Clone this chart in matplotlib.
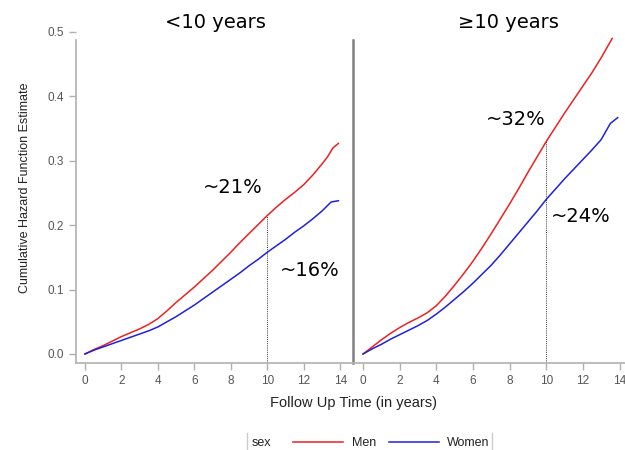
import matplotlib
matplotlib.use("Agg")
import matplotlib.pyplot as plt
from matplotlib.lines import Line2D

# ---- data ----
t_lt10_men = [0, 0.5, 1, 1.5, 2, 2.5, 3, 3.5, 4, 4.5, 5, 5.5, 6, 6.5, 7, 7.5, 8, 8.5, 9, 9.5, 10, 10.5, 11, 11.5, 12, 12.5, 13, 13.3, 13.6, 13.9]
y_lt10_men = [0, 0.007, 0.013, 0.020, 0.027, 0.033, 0.039, 0.046, 0.055, 0.067, 0.080, 0.092, 0.104, 0.117, 0.130, 0.144, 0.158, 0.173, 0.187, 0.201, 0.215, 0.228, 0.240, 0.251, 0.263, 0.278, 0.295, 0.306, 0.320, 0.327]
t_lt10_women = [0, 0.5, 1, 1.5, 2, 2.5, 3, 3.5, 4, 4.5, 5, 5.5, 6, 6.5, 7, 7.5, 8, 8.5, 9, 9.5, 10, 10.5, 11, 11.5, 12, 12.5, 13, 13.5, 13.9]
y_lt10_women = [0, 0.006, 0.011, 0.016, 0.021, 0.026, 0.031, 0.036, 0.042, 0.050, 0.058, 0.067, 0.076, 0.086, 0.096, 0.106, 0.116, 0.126, 0.137, 0.147, 0.158, 0.168, 0.178, 0.189, 0.199, 0.210, 0.222, 0.236, 0.238]

t_ge10_men = [0, 0.5, 1, 1.5, 2, 2.5, 3, 3.5, 4, 4.5, 5, 5.5, 6, 6.5, 7, 7.5, 8, 8.5, 9, 9.5, 10, 10.5, 11, 11.5, 12, 12.5, 13, 13.3, 13.6]
y_ge10_men = [0, 0.011, 0.022, 0.032, 0.041, 0.049, 0.056, 0.064, 0.075, 0.090, 0.107, 0.125, 0.144, 0.165, 0.187, 0.210, 0.233, 0.257, 0.282, 0.306, 0.330, 0.352, 0.374, 0.395, 0.416, 0.437, 0.460, 0.475, 0.490]
t_ge10_women = [0, 0.5, 1, 1.5, 2, 2.5, 3, 3.5, 4, 4.5, 5, 5.5, 6, 6.5, 7, 7.5, 8, 8.5, 9, 9.5, 10, 10.5, 11, 11.5, 12, 12.5, 13, 13.5, 13.9]
y_ge10_women = [0, 0.008, 0.015, 0.023, 0.030, 0.037, 0.044, 0.052, 0.062, 0.073, 0.085, 0.097, 0.110, 0.124, 0.138, 0.154, 0.171, 0.188, 0.205, 0.222, 0.240, 0.256, 0.272, 0.287, 0.302, 0.317, 0.333, 0.358, 0.367]

panel_titles = ["<10 years", "\u226510 years"]
labels_lt10 = ["~21%", "~16%"]
labels_ge10 = ["~32%", "~24%"]
series_names = ["Men", "Women"]
x_ticks = [0, 2, 4, 6, 8, 10, 12, 14]
y_ticks = [0.0, 0.1, 0.2, 0.3, 0.4, 0.5]
marker_time = 10

RED = "#ee2020"
BLUE = "#2020e0"
SPINE = "#b0b0b0"
TICKC = "#555555"
TXT = "#222222"

W, H = 625, 450
fig = plt.figure(figsize=(W / 100, H / 100), dpi=100)
fig.patch.set_facecolor("white")

ylow, ytop = -0.014, 0.5
axL = fig.add_axes([76 / W, 87 / H, 277 / W, 331 / H])
axR = fig.add_axes([353 / W, 87 / H, 272 / W, 331 / H])

tickfont = dict(family="Liberation Sans", size=8.5)

for ax in (axL, axR):
    ax.set_ylim(ylow, ytop)
    ax.set_xticks(x_ticks)
    ax.set_xticklabels([str(v) for v in x_ticks], fontdict=tickfont, color=TICKC)
    ax.tick_params(axis="x", length=5, width=1, color=SPINE, pad=4)
    ax.spines["top"].set_visible(False)
    ax.spines["bottom"].set_color(SPINE)
    ax.spines["bottom"].set_linewidth(1.2)
    ax.patch.set_alpha(0)

axL.set_xlim(-0.49, 14.7)
axR.set_xlim(-0.55, 14.3)

axL.set_yticks(y_ticks)
axL.set_yticklabels([f"{v:.1f}" for v in y_ticks], fontdict=tickfont, color=TICKC)
axL.tick_params(axis="y", length=5, width=1, color=SPINE, pad=4)
axL.spines["left"].set_color(SPINE)
axL.spines["left"].set_linewidth(1.2)
axL.spines["left"].set_bounds(ylow, 0.488)
axL.spines["right"].set_color("#808080")
axL.spines["right"].set_linewidth(1.8)
axL.spines["right"].set_bounds(ylow, 0.488)

axR.set_yticks([])
axR.spines["left"].set_visible(False)
axR.spines["right"].set_visible(False)

lw = 1.1
l_men, = axL.plot(t_lt10_men, y_lt10_men, color=RED, lw=lw, label=series_names[0])
l_wom, = axL.plot(t_lt10_women, y_lt10_women, color=BLUE, lw=lw, label=series_names[1])
axR.plot(t_ge10_men, y_ge10_men, color=RED, lw=lw)
axR.plot(t_ge10_women, y_ge10_women, color=BLUE, lw=lw)

# dotted reference lines at 10 years
yL10 = y_lt10_men[t_lt10_men.index(marker_time)]
yR10 = y_ge10_men[t_ge10_men.index(marker_time)]
axL.plot([marker_time, marker_time], [ylow, yL10], color="#333333", lw=0.7, ls=(0, (1, 1.2)))
axR.plot([marker_time, marker_time], [ylow, yR10], color="#333333", lw=0.7, ls=(0, (1, 1.2)))

annfont = dict(family="DejaVu Sans", size=14, color="black")
axL.text(8.08, 0.258, labels_lt10[0], ha="center", va="center", **annfont)
axL.text(12.34, 0.129, labels_lt10[1], ha="center", va="center", **annfont)
axR.text(8.33, 0.364, labels_ge10[0], ha="center", va="center", **annfont)
axR.text(11.89, 0.213, labels_ge10[1], ha="center", va="center", **annfont)

# panel titles
fig.text(215 / W, 1 - 23 / H, panel_titles[0], ha="center", va="center", **annfont)
fig.text(508 / W, 1 - 23 / H, panel_titles[1], ha="center", va="center", **annfont)

# axis labels
fig.text(25 / W, 1 - 188 / H, "Cumulative Hazard Function Estimate", rotation=90,
         ha="center", va="center", family="Liberation Sans", size=9, color=TXT)
fig.text(353 / W, 1 - 403 / H, "Follow Up Time (in years)", ha="center", va="center",
         family="Liberation Sans", size=10.5, color=TXT)

# legend
ly = 1 - 443 / H
fig.text(252 / W, ly, "sex", ha="left", va="center", family="Liberation Sans", size=9, color=TXT)
leg = fig.legend(handles=[l_men, l_wom], labels=series_names, ncol=2, frameon=False,
                 loc="center left", bbox_to_anchor=(293 / W, ly), handlelength=4.0,
                 handletextpad=0.7, columnspacing=1.0, borderpad=0, borderaxespad=0,
                 prop=dict(family="Liberation Sans", size=9))
for txt in leg.get_texts():
    txt.set_color(TXT)
for xb in (247, 492):
    fig.add_artist(Line2D([xb / W, xb / W], [ly - 12 / H, ly + 10 / H], color="#cccccc", lw=1,
                          transform=fig.transFigure))

fig.savefig("out.png", dpi=100)
